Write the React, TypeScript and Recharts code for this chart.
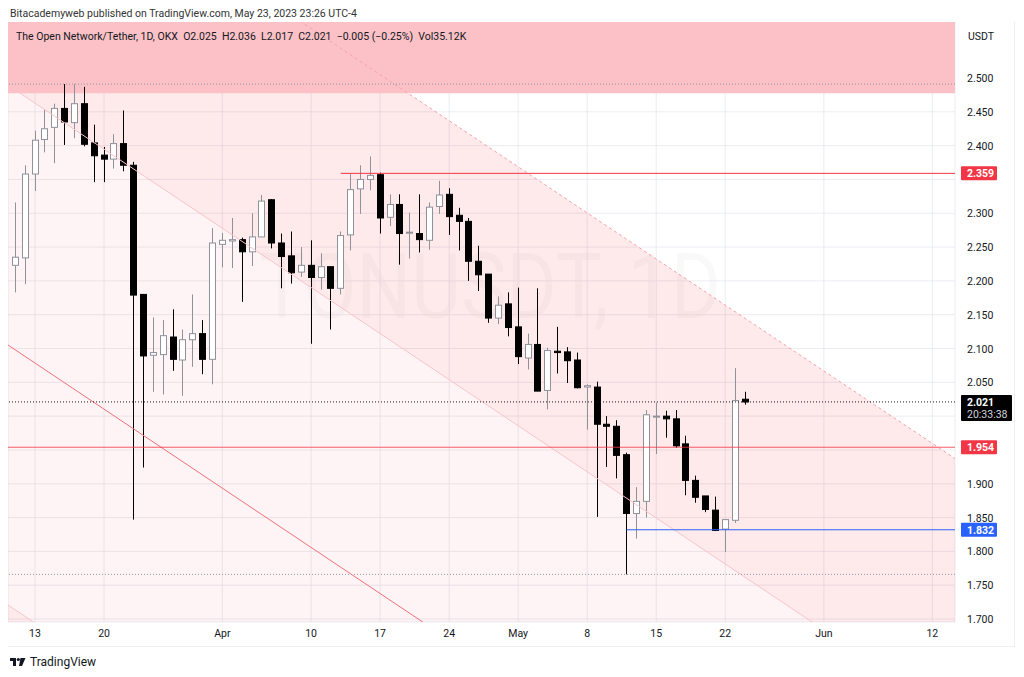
import React from 'react'
import {
  ComposedChart,
  Bar,
  Area,
  Line,
  XAxis,
  YAxis,
  CartesianGrid,
  ReferenceLine,
  ReferenceArea,
} from 'recharts'

// daily candles, Mar 11 .. May 24 2023 (index 0 = Mar 11)
const opens = [
  2.223, 2.234, 2.358, 2.409, 2.427, 2.455, 2.434, 2.462, 2.404, 2.386, 2.38, 2.403, 2.371, 2.18, 2.09, 2.091, 2.117, 2.083, 2.113, 2.122, 2.084,
  2.254, 2.259, 2.261, 2.243, 2.265, 2.32, 2.256, 2.237, 2.213, 2.223, 2.205, 2.221, 2.189, 2.268, 2.336, 2.35, 2.357, 2.294, 2.313, 2.271, 2.27, 2.26, 2.31, 2.328, 2.297, 2.288, 2.229, 2.21, 2.145, 2.166,
  2.132, 2.086, 2.106, 2.038, 2.096, 2.095, 2.083, 2.043, 2.043, 1.988, 1.985, 1.943, 1.856, 1.874, 1.999, 2.0, 1.996, 1.959, 1.905, 1.882, 1.861, 1.833, 1.846, 2.025,
]
const highs = [
  2.316, 2.371, 2.422, 2.454, 2.462, 2.491, 2.491, 2.487, 2.431, 2.398, 2.417, 2.452, 2.376, 2.18, 2.146, 2.142, 2.158, 2.128, 2.18, 2.142, 2.278,
  2.271, 2.293, 2.264, 2.3, 2.327, 2.321, 2.27, 2.273, 2.25, 2.26, 2.241, 2.221, 2.273, 2.358, 2.371, 2.384, 2.36, 2.328, 2.328, 2.301, 2.328, 2.316, 2.348, 2.337, 2.308, 2.293, 2.252, 2.21, 2.177, 2.183,
  2.19, 2.122, 2.189, 2.101, 2.132, 2.102, 2.094, 2.047, 2.051, 2.0, 1.994, 1.946, 1.895, 2.009, 2.02, 2.008, 2.009, 1.971, 1.912, 1.882, 1.881, 1.847, 2.071, 2.036,
]
const lows = [
  2.183, 2.195, 2.333, 2.39, 2.374, 2.401, 2.411, 2.399, 2.346, 2.346, 2.366, 2.362, 1.847, 1.924, 2.036, 2.032, 2.067, 2.03, 2.073, 2.062, 2.047,
  2.22, 2.219, 2.169, 2.222, 2.265, 2.248, 2.189, 2.196, 2.206, 2.107, 2.187, 2.128, 2.18, 2.245, 2.299, 2.334, 2.27, 2.281, 2.224, 2.233, 2.242, 2.246, 2.299, 2.268, 2.245, 2.2, 2.185, 2.138, 2.136, 2.118,
  2.077, 2.069, 2.037, 2.01, 2.063, 2.049, 2.041, 1.98, 1.851, 1.925, 1.908, 1.766, 1.819, 1.85, 1.944, 1.968, 1.953, 1.883, 1.872, 1.858, 1.83, 1.799, 1.842, 2.017,
]
const closes = [
  2.235, 2.358, 2.408, 2.425, 2.455, 2.435, 2.462, 2.402, 2.385, 2.38, 2.403, 2.371, 2.179, 2.089, 2.094, 2.119, 2.084, 2.113, 2.122, 2.084, 2.256,
  2.26, 2.261, 2.243, 2.265, 2.318, 2.256, 2.236, 2.212, 2.223, 2.205, 2.221, 2.189, 2.267, 2.335, 2.35, 2.356, 2.293, 2.313, 2.27, 2.272, 2.261, 2.309, 2.327, 2.295, 2.288, 2.229, 2.209, 2.145, 2.164, 2.131,
  2.088, 2.106, 2.037, 2.097, 2.094, 2.082, 2.042, 2.045, 1.988, 1.985, 1.942, 1.856, 1.874, 2.002, 2.0, 1.996, 1.956, 1.905, 1.88, 1.862, 1.831, 1.847, 2.023, 2.021,
]

const dayTicks = [2, 9, 21, 30, 37, 44, 51, 58, 65, 72, 82, 93]
const dayTickLabels = ['13', '20', 'Apr', '10', '17', '24', 'May', '8', '15', '22', 'Jun', '12']
const priceTicks = [1.7, 1.75, 1.8, 1.85, 1.9, 1.95, 2.0, 2.05, 2.1, 2.15, 2.2, 2.25, 2.3, 2.35, 2.4, 2.45, 2.5, 2.55]
const coveredTicks = [1.95, 2.0, 2.35, 2.55]

// parallel channel drawing, anchored at day -1 and day 96
const channelDays = [-1, 96]
const channelUpper = [2.875, 1.9305]
const channelLine1 = [2.492, 1.5476]
const channelLine2 = [2.1077, 1.1632]
const channelLine3 = [1.7233, 0.7788]

const zoneLow = 2.4774
const zoneHigh = 2.65
const rangeHigh = 2.491
const rangeLow = 1.766
const resistance = 2.359
const resistanceFrom = 33
const support = 1.832
const supportFrom = 62
const midLevel = 1.954
const lastPrice = 2.021
const countdown = '20:33:38'

const candles = opens.map((o, i) => ({ t: i, o, h: highs[i], l: lows[i], c: closes[i] }))

const band = (lo: number[], hi: number[]) =>
  channelDays.map((t, i) => ({ t, v: [lo[i], hi[i]] }))
const seg = (vals: number[]) => channelDays.map((t, i) => ({ t, v: vals[i] }))

const FONT = 'Roboto, "Noto Sans", sans-serif'

const Candle = (props: any) => {
  const { x, y, width, height, payload } = props
  if (!payload || x == null) return null
  const { o, h, l, c } = payload
  const top = Math.min(y, y + height)
  const full = Math.abs(height)
  const k = full / (h - l)
  const yOf = (v: number) => top + (h - v) * k
  const cx = Math.round(x + width / 2) + 0.5
  const up = c >= o
  const bTop = yOf(Math.max(o, c))
  const bH = Math.max(yOf(Math.min(o, c)) - bTop, 1)
  return (
    <g>
      <line x1={cx} x2={cx} y1={top} y2={top + full} stroke={up ? '#8f929b' : '#000'} strokeWidth={1} />
      <rect
        x={cx - 3}
        y={bTop}
        width={6}
        height={bH}
        fill={up ? '#fff' : '#000'}
        stroke={up ? '#8f929b' : '#000'}
        strokeWidth={1}
      />
    </g>
  )
}

const tag = (text: string, bg: string, sub?: string) => (props: any) => {
  const vb = props.viewBox || {}
  const x = vb.x + vb.width + 6
  const y = vb.y
  return (
    <g>
      <rect x={x} y={y - 7} width={sub ? 51 : 36} height={sub ? 26 : 14} rx={1} fill={bg} />
      <text x={x + 6} y={y + 4} fill='#fff' fontSize={10.5} fontWeight={700} fontFamily={FONT}>
        {text}
      </text>
      {sub && (
        <text x={x + 6} y={y + 16} fill='#d1d4dc' fontSize={10.5} fontFamily={FONT}>
          {sub}
        </text>
      )}
    </g>
  )
}

const PriceTick = (props: any) => {
  const { x, y, payload } = props
  if (coveredTicks.includes(payload.value)) return <g />
  return (
    <text x={x} y={y + 4} fill='#131722' fontSize={10.5} fontFamily={FONT} textAnchor='start'>
      {payload.value.toFixed(3)}
    </text>
  )
}

const App = () => {
  return (
    <div style={{ position: 'relative', width: 1008, height: 661, fontFamily: FONT, color: '#131722' }}>
      <div style={{ position: 'absolute', left: 2, top: 0, height: 12, lineHeight: '12px', fontSize: 10.5, color: '#333' }}>
        Bitacademyweb published on TradingView.com, May 23, 2023 23:26 UTC-4
      </div>

      <svg width={947} height={600} style={{ position: 'absolute', left: 0, top: 14 }}>
        <text x={482} y={296} textAnchor='middle' fontSize={90} textLength={462} lengthAdjust='spacingAndGlyphs' fill='#000' fillOpacity={0.025} fontFamily={FONT}>
          TONUSDT, 1D
        </text>
        <text x={484} y={366} textAnchor='middle' fontSize={46} textLength={476} lengthAdjust='spacingAndGlyphs' fill='#000' fillOpacity={0.025} fontFamily={FONT}>
          The Open Network/Tether
        </text>
      </svg>

      <div style={{ position: 'absolute', left: 0, top: 14 }}>
        <ComposedChart width={1007} height={625} data={candles} margin={{ top: 0, right: 0, bottom: 0, left: 0 }}>
          <CartesianGrid stroke='#e3e5ec' strokeOpacity={0.7} />
          <XAxis
            dataKey='t'
            type='number'
            domain={[-0.74, 95.3]}
            allowDataOverflow
            ticks={dayTicks}
            interval={0}
            tickFormatter={(v: number) => dayTickLabels[dayTicks.indexOf(v)]}
            axisLine={false}
            tickLine={false}
            tickSize={0}
            tickMargin={8}
            height={25}
            tick={{ fontSize: 10.5, fill: '#131722', fontFamily: FONT }}
          />
          <YAxis
            orientation='right'
            type='number'
            domain={[1.6956, 2.5828]}
            allowDataOverflow
            ticks={priceTicks}
            interval={0}
            width={60}
            axisLine={false}
            tickLine={false}
            tickSize={0}
            tickMargin={12}
            tick={<PriceTick />}
          />

          <Area data={band(channelLine1, channelUpper)} dataKey='v' type='linear' stroke='none' fill='#f23645' fillOpacity={0.11} isAnimationActive={false} dot={false} activeDot={false} />
          <Area data={band(channelLine3, channelLine1)} dataKey='v' type='linear' stroke='none' fill='#f23645' fillOpacity={0.055} isAnimationActive={false} dot={false} activeDot={false} />
          <Area data={band([0, -1], channelLine3)} dataKey='v' type='linear' stroke='none' fill='#f23645' fillOpacity={0.11} isAnimationActive={false} dot={false} activeDot={false} />

          <Line data={seg(channelUpper)} dataKey='v' type='linear' stroke='#f7a1aa' strokeWidth={1} strokeDasharray='3 3' dot={false} activeDot={false} isAnimationActive={false} />
          <Line data={seg(channelLine1)} dataKey='v' type='linear' stroke='#f9c4c9' strokeWidth={1} dot={false} activeDot={false} isAnimationActive={false} />
          <Line data={seg(channelLine2)} dataKey='v' type='linear' stroke='#f0707c' strokeWidth={1} dot={false} activeDot={false} isAnimationActive={false} />
          <Line data={seg(channelLine3)} dataKey='v' type='linear' stroke='#f9c4c9' strokeWidth={1} dot={false} activeDot={false} isAnimationActive={false} />

          <ReferenceArea y1={zoneLow} y2={zoneHigh} ifOverflow='hidden' fill='#fbc1c6' fillOpacity={1} stroke='none' />

          <ReferenceLine y={rangeHigh} stroke='#9598a1' strokeDasharray='1 2' />
          <ReferenceLine y={rangeLow} stroke='#9598a1' strokeDasharray='1 2' />
          <ReferenceLine
            segment={[{ x: resistanceFrom, y: resistance }, { x: 95.3, y: resistance }]}
            stroke='#f23645'
            strokeWidth={1}
          />
          <ReferenceLine y={resistance} stroke='none' label={tag(resistance.toFixed(3), '#f23645')} />
          <ReferenceLine y={midLevel} stroke='#f23645' strokeOpacity={0.8} label={tag(midLevel.toFixed(3), '#f23645')} />
          <ReferenceLine
            segment={[{ x: supportFrom, y: support }, { x: 95.3, y: support }]}
            stroke='#2962ff'
            strokeWidth={1}
          />
          <ReferenceLine y={support} stroke='none' label={tag(support.toFixed(3), '#2962ff')} />

          <Bar
            dataKey={(d: any) => [d.l, d.h]}
            barSize={7}
            shape={(p: any) => <Candle {...p} />}
            isAnimationActive={false}
          />

          <ReferenceLine y={lastPrice} stroke='#131722' strokeDasharray='1 2' label={tag(lastPrice.toFixed(3), '#000', countdown)} />
        </ComposedChart>
      </div>

      <div style={{ position: 'absolute', left: 8, top: 22.5, height: 12, lineHeight: '12px', fontSize: 10.5, whiteSpace: 'pre', color: '#131722' }}>
        {'The Open Network/Tether, 1D, OKX  O2.025  H2.036  L2.017  C2.021  \u22120.005 (\u22120.25%)  Vol35.12K'}
      </div>

      <div style={{ position: 'absolute', left: 956, top: 22, width: 50, height: 14, lineHeight: '14px', background: '#fff', fontSize: 10.5, paddingLeft: 4 }}>
        USDT
      </div>

      <div style={{ position: 'absolute', left: 1006, top: 14, width: 1, height: 625, background: '#eceef2' }} />
      <div style={{ position: 'absolute', left: 0, top: 638, width: 1007, height: 1, background: '#eceef2' }} />

      <div style={{ position: 'absolute', left: 2, top: 647, display: 'flex', alignItems: 'center', gap: 4 }}>
        <svg width={16} height={10} viewBox='0 0 16 10'>
          <rect x={0} y={1} width={6} height={3} fill='#131722' />
          <rect x={3} y={1} width={3} height={8} fill='#131722' />
          <circle cx={8.3} cy={2.5} r={1.6} fill='#131722' />
          <polygon points='10.5,1 15.5,1 12,9 9,9' fill='#131722' />
        </svg>
        <span style={{ fontSize: 12, color: '#131722' }}>TradingView</span>
      </div>
    </div>
  )
}

export default App
